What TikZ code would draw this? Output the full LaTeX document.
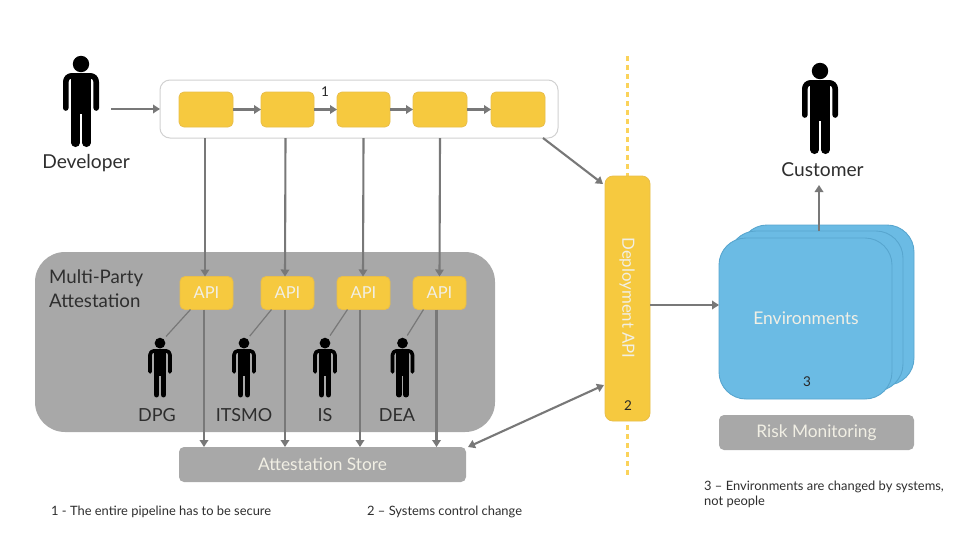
\documentclass[tikz,border=0pt]{standalone}
\usepackage{fontspec}
\setmainfont{Lato}
\usetikzlibrary{arrows.meta,calc}
\definecolor{amber}{HTML}{F6C93F}
\definecolor{amberline}{HTML}{E9BE4A}
\definecolor{dashamber}{HTML}{FBD35A}
\definecolor{panelgrey}{HTML}{A8A8A8}
\definecolor{linkgrey}{HTML}{787878}
\definecolor{envblue}{HTML}{6BBBE4}
\definecolor{envline}{HTML}{58A6CF}
\definecolor{inkgrey}{HTML}{2E2E2E}
\definecolor{paleink}{HTML}{F1EFE4}
\tikzset{
  x=1pt,y=-1pt,
  box/.style={rounded corners=#1,inner sep=0pt,outer sep=0pt},
  stagebox/.style={box=5pt,draw=amberline,line width=.8pt,fill=amber,minimum height=35pt},
  apibox/.style={box=5pt,draw=amberline,line width=.8pt,fill=amber,minimum width=53pt,minimum height=33pt,text=paleink,font=\fontsize{16.5}{16.5}\selectfont},
  greybox/.style={box=5pt,fill=panelgrey,text=paleink,font=\fontsize{17.3}{17.3}\selectfont},
  envbox/.style={box=27pt,draw=envline,line width=.9pt,fill=envblue},
  link/.style={draw=linkgrey,line width=2.1pt,-{Triangle[length=7pt,width=8.5pt]}},
  duallink/.style={link,{Triangle[length=7pt,width=8.5pt]}-{Triangle[length=7pt,width=8.5pt]}},
  tielink/.style={draw=linkgrey,line width=1.2pt,shorten >=9pt},
  bigtext/.style={inner sep=0pt,text=inkgrey,font=\fontsize{19.2}{19.2}\selectfont},
  roletext/.style={inner sep=0pt,text=inkgrey,font=\fontsize{18}{18}\selectfont},
  numtext/.style={inner sep=0pt,text=black!85,font=\fontsize{13.5}{13.5}\selectfont},
  notetext/.style={inner sep=0pt,anchor=west,align=left,text=inkgrey,font=\fontsize{12.9}{15}\selectfont},
  boundary/.style={draw=dashamber,line width=2.1pt,dash pattern=on 5pt off 4pt},
  pics/person/.style 2 args={code={
    \coordinate (-head) at (0,-38*#2);
    \begin{scope}[scale=#2,black]
    \fill (0,-38) circle (8.2);
    \fill (-9.6,-26) rectangle (9.6,12);
    \draw[line width=#2*5.6pt,line cap=round,line join=round,rounded corners=#2*6pt] (-15.2,6) -- (-15.2,-26.2) -- (15.2,-26.2) -- (15.2,6);
    \draw[line width=#2*8.4pt,line cap=round] (-5.4,10) -- (-5.4,40.8) (5.4,10) -- (5.4,40.8);
    \end{scope}
  }}
}
\begin{document}
\begin{tikzpicture}
\useasboundingbox (0,0) rectangle (968,536);
\fill[white] (0,0) rectangle (968,536);

% boundary
\coordinate (bndtop) at (627.5,56);
\coordinate (bndbot) at (627.5,478);
\draw[boundary] (bndtop) -- (bndbot);

% panel
\node[box=30pt,fill=panelgrey,minimum width=460pt,minimum height=180pt] (panel) at (265,342) {};
\node[bigtext,anchor=west,align=left,font=\fontsize{18.7}{24}\selectfont] (mpa) at (49,289) {Multi-Party\\Attestation};

% pipeline
\node[box=10pt,draw=black!18,line width=1pt,fill=white,minimum width=398pt,minimum height=58pt] (pipe) at (359,109) {};
\node[stagebox,minimum width=54pt] (s1) at (206,109.5) {};
\node[stagebox,minimum width=53pt] (s2) at (287.5,109.5) {};
\node[stagebox,minimum width=53pt] (s3) at (363.5,109.5) {};
\node[stagebox,minimum width=54pt] (s4) at (440,109.5) {};
\node[stagebox,minimum width=54pt] (s5) at (518,109.5) {};
\node[numtext] (n1) at (325,92) {1};

% API boxes
\node[apibox] (a1) at (206.5,293) {API};
\node[apibox] (a2) at (287.5,293) {API};
\node[apibox] (a3) at (363.5,293) {API};
\node[apibox] (a4) at (439.5,293) {API};

% store
\node[greybox,minimum width=287pt,minimum height=35pt] (store) at (322.5,464.5) {Attestation Store};

% people
\pic (dev) at (81,102) {person={black}{1}};
\pic (cust) at (820,109) {person={white}{1}};
\pic (p1) at (160,368) {person={panelgrey}{.655}};
\pic (p2) at (244,368) {person={panelgrey}{.655}};
\pic (p3) at (325,368) {person={panelgrey}{.655}};
\pic (p4) at (402.5,368) {person={panelgrey}{.655}};
\node[bigtext] (devlabel) at (86,163) {Developer};
\node[bigtext] (custlabel) at (822.5,170) {Customer};
\node[roletext] (l1) at (157,415) {DPG};
\node[roletext] (l2) at (244,415) {ITSMO};
\node[roletext] (l3) at (325,415) {IS};
\node[roletext] (l4) at (397,415) {DEA};

% deployment
\node[box=8pt,draw=amberline,line width=.8pt,fill=amber,minimum width=45pt,minimum height=245pt] (deploy) at (627.5,298.5) {};
\node[inner sep=0pt,rotate=-90,text=paleink,font=\fontsize{16.8}{16.8}\selectfont] (deptext) at (627,298) {Deployment API};
\node[numtext] (n2) at (628,406) {2};

% environments
\node[envbox,minimum width=174pt,minimum height=160pt] (e3) at (827,305) {};
\node[envbox,minimum width=174pt,minimum height=160pt] (e2) at (816,311) {};
\node[envbox,minimum width=173pt,minimum height=161pt] (e1) at (805.5,318.5) {};
\node[inner sep=0pt,text=paleink,font=\fontsize{17.5}{17.5}\selectfont] (envtext) at (806,318) {Environments};
\node[numtext] (n3) at (807,382) {3};
\node[greybox,minimum width=195pt,minimum height=35pt] (risk) at (816.5,432.5) {Risk Monitoring};

% notes
\node[notetext] (note1) at (51,512) {1 - The entire pipeline has to be secure};
\node[notetext] (note2) at (367,512) {2 -- Systems control change};
\node[notetext] (note3) at (704,494.5) {3 -- Environments are changed by systems,\\not people};

% connectors
\path (dev-head |- pipe.west) ++(30,0) coordinate (devout);
\draw[link] (devout) -- (pipe.west);
\draw[link] (s1) -- (s2);
\draw[link] (s2) -- (s3);
\draw[link] (s3) -- (s4);
\draw[link] (s4) -- (s5);
\draw[link] ([xshift=-1pt]s1.south |- pipe.south) -- ([xshift=-1.5pt]a1.north);
\draw[link] ([xshift=-2pt]s2.south |- pipe.south) -- ([xshift=-2.5pt]a2.north);
\draw[link] (s3.south |- pipe.south) -- ([xshift=-.5pt]a3.north);
\draw[link] (s4.south |- pipe.south) -- (a4.north);
\draw[link] ([xshift=-2.5pt]a1.south) -- ([xshift=-2.5pt]a1.south |- store.north);
\draw[link] ([xshift=-2.5pt]a2.south) -- ([xshift=-2.5pt]a2.south |- store.north);
\draw[link] ([xshift=-3.5pt]a3.south) -- ([xshift=-3.5pt]a3.south |- store.north);
\draw[link] ([xshift=-3pt]a4.south) -- ([xshift=-3pt]a4.south |- store.north);
\draw[tielink] ([xshift=-16pt]a1.south) -- (p1-head);
\draw[tielink] ([xshift=-16pt]a2.south) -- (p2-head);
\draw[tielink] ([xshift=-16pt]a3.south) -- (p3-head);
\draw[tielink] ([xshift=-16pt]a4.south) -- (p4-head);
\draw[link] ([xshift=-15pt]pipe.south east) -- ([yshift=-8pt,xshift=-2pt]deploy.north west);
\draw[duallink] ([xshift=2pt]store.north east) -- ([yshift=36pt,xshift=-1pt]deploy.south west);
\draw[link] ([yshift=-6.5pt]deploy.east) -- ([yshift=-6.5pt]e1.west |- deploy.east);
\draw[link] (e2.north) ++(3,0) -- ++(0,-46);
\end{tikzpicture}
\end{document}
